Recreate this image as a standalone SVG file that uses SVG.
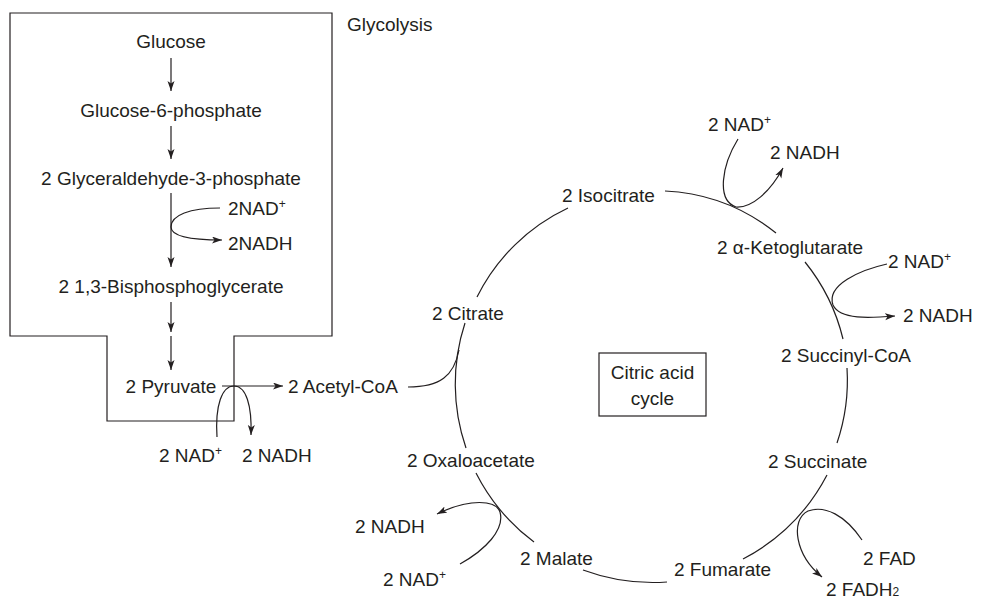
<svg xmlns="http://www.w3.org/2000/svg" width="984" height="601" viewBox="0 0 984 601">
<style>
text{font-family:"Liberation Sans",Arial,sans-serif;font-size:19px;fill:#231f20}
.m{text-anchor:middle}
.ln{fill:none;stroke:#231f20;stroke-width:1.2}
.ar{fill:none;stroke:#231f20;stroke-width:1.2;marker-end:url(#ah)}
.sup{font-size:12px}
</style>
<defs>
<marker id="ah" markerUnits="userSpaceOnUse" markerWidth="11" markerHeight="8" refX="10" refY="3.5" orient="auto">
<path d="M0,0 L10,3.5 L0,7 L2.5,3.5 Z" fill="#231f20"/>
</marker>
</defs>
<rect width="984" height="601" fill="#fff"/>
<g id="glycolysis-box">
<path class="ln" d="M10,13 H332 V336 H234 V421 H107 V336 H10 Z"/>
<text x="347" y="31">Glycolysis</text>
</g>
<g id="glucose"><text class="m" x="171" y="48">Glucose</text></g>
<g id="g6p"><text class="m" x="171" y="117">Glucose-6-phosphate</text></g>
<g id="g3p"><text class="m" x="171" y="185">2 Glyceraldehyde-3-phosphate</text></g>
<g id="nad-1"><text x="228" y="215">2NAD<tspan class="sup" dy="-7">+</tspan></text></g>
<g id="nadh-1"><text x="228" y="250">2NADH</text></g>
<g id="bpg"><text class="m" x="171" y="293">2 1,3-Bisphosphoglycerate</text></g>
<g id="pyruvate"><text class="m" x="171" y="393">2 Pyruvate</text></g>
<g id="acetylcoa"><text x="288" y="393">2 Acetyl-CoA</text></g>
<g id="nad-2"><text x="159" y="462">2 NAD<tspan class="sup" dy="-7">+</tspan></text></g>
<g id="nadh-2"><text x="242" y="462">2 NADH</text></g>
<g id="citrate"><text x="432" y="320">2 Citrate</text></g>
<g id="isocitrate"><text x="562" y="202">2 Isocitrate</text></g>
<g id="nad-3"><text x="708" y="131">2 NAD<tspan class="sup" dy="-7">+</tspan></text></g>
<g id="nadh-3"><text x="770" y="159">2 NADH</text></g>
<g id="akg"><text x="717" y="254">2 α-Ketoglutarate</text></g>
<g id="nad-4"><text x="888" y="268">2 NAD<tspan class="sup" dy="-7">+</tspan></text></g>
<g id="nadh-4"><text x="903" y="322">2 NADH</text></g>
<g id="succinylcoa"><text x="781" y="362">2 Succinyl-CoA</text></g>
<g id="cycle-label">
<rect class="ln" x="599" y="353" width="107" height="63"/>
<text class="m" x="652.5" y="379">Citric acid</text>
<text class="m" x="652.5" y="405">cycle</text>
</g>
<g id="oxaloacetate"><text x="407" y="467">2 Oxaloacetate</text></g>
<g id="succinate"><text x="768" y="468">2 Succinate</text></g>
<g id="nadh-5"><text x="355" y="533">2 NADH</text></g>
<g id="nad-5"><text x="383" y="586">2 NAD<tspan class="sup" dy="-7">+</tspan></text></g>
<g id="malate"><text x="520" y="565">2 Malate</text></g>
<g id="fumarate"><text x="674" y="576">2 Fumarate</text></g>
<g id="fad"><text x="863" y="565">2 FAD</text></g>
<g id="fadh2"><text x="826" y="596">2 FADH<tspan class="sup">2</tspan></text></g>
<g id="connectors">
<path class="ar" d="M171,58 V91"/>
<path class="ar" d="M171,126 V159"/>
<path class="ar" d="M171,193 V267"/>
<path class="ar" d="M171,302 V332"/>
<path class="ar" d="M171,336 V370"/>
<path class="ar" d="M220,208 C190,208 171,215 171,227 C171,237 195,240 222,240"/>
<path class="ar" d="M222,386 H283"/>
<path class="ar" d="M217,437 C215,405 222,386 234,386 C246,386 252,405 251,435"/>
<path class="ln" d="M408,387 C440,387 454,376 459,350"/>
<path class="ln" d="M568,208 A194,194 0 0 0 477,297"/>
<path class="ln" d="M465,323 A196,196 0 0 0 466,448"/>
<path class="ln" d="M476,473 A198,198 0 0 0 534,542"/>
<path class="ln" d="M583,570 A201,201 0 0 0 667,582"/>
<path class="ln" d="M743,559 A199,199 0 0 0 827,475"/>
<path class="ln" d="M837,443 A195,195 0 0 0 847,368"/>
<path class="ln" d="M843,339 A195,195 0 0 0 805,262"/>
<path class="ln" d="M776,233 A192,192 0 0 0 665,191"/>
<path class="ar" d="M738,139 C722,165 716,200 736,207 C752,208 770,192 783,168"/>
<path class="ar" d="M887,264 C860,270 826,285 833,305 C840,320 870,318 895,316"/>
<path class="ar" d="M460,564 C485,550 505,530 500,512 C496,500 470,498 437,514"/>
<path class="ar" d="M862,540 C845,515 825,505 808,511 C790,520 795,555 822,577"/>
</g>
</svg>
